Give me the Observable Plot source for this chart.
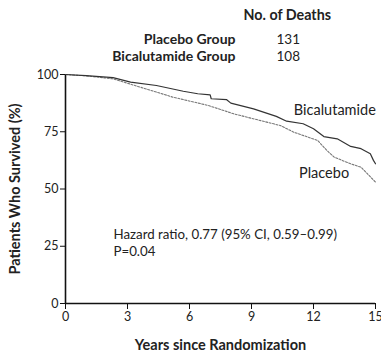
<!DOCTYPE html>
<html><head><meta charset="utf-8">
<script src="https://cdn.jsdelivr.net/npm/d3@7"></script>
<script src="https://cdn.jsdelivr.net/npm/@observablehq/plot@0.6"></script>
<style>body{margin:0;background:#fff}</style>
</head><body><div id="chart"></div>
<script>
const bicYears = [0, 1.0, 2.3, 3.15, 4.4, 5.7, 6.4, 7.0, 7.05, 7.8, 8.0, 9.1, 10.2, 10.7, 11.5, 12.0, 12.5, 13.15, 13.8, 14.3, 14.75, 14.9, 15];
const bicSurv  = [100, 99.5, 98.6, 96.7, 95.2, 92.7, 91.6, 91.1, 89.4, 89.0, 87.5, 85.0, 81.7, 79.6, 78.5, 76.3, 72.9, 71.9, 68.6, 67.6, 65.4, 62.5, 61];
const plaYears = [0, 1.0, 2.3, 3.5, 5.2, 6.9, 8.15, 9.3, 10.4, 11.05, 12.2, 12.65, 13.0, 13.8, 14.3, 15];
const plaSurv  = [100, 99.4, 98.1, 94.8, 90.1, 86.5, 82.8, 80.2, 77.7, 74.8, 71.2, 66.8, 63.9, 61.0, 59.5, 53];
const groups = ["Placebo Group", "Bicalutamide Group"];
const deaths = [131, 108];
const xTicks = [0, 3, 6, 9, 12, 15];
const yTicks = [0, 25, 50, 75, 100];
const headerTitle = "No. of Deaths";
const xLabel = "Years since Randomization";
const yLabel = "Patients Who Survived (%)";
const hazardText = "Hazard ratio, 0.77 (95% CI, 0.59–0.99)\nP=0.04";

const bic = bicYears.map((x, i) => ({x, y: bicSurv[i]}));
const pla = plaYears.map((x, i) => ({x, y: plaSurv[i]}));

const rowMarks = groups.flatMap((g, i) => [
  Plot.text([g], {frameAnchor: "top-left", dx: 170, dy: -40 + i * 17, textAnchor: "end", fontSize: 14, fontWeight: "bold", fill: "#222"}),
  Plot.text([String(deaths[i])], {frameAnchor: "top-left", dx: 211, dy: -40 + i * 17, textAnchor: "start", fontSize: 13.5, fill: "#222"})
]);

const chart = Plot.plot({
  width: 381, height: 356,
  marginLeft: 65, marginRight: 6, marginTop: 74, marginBottom: 53,
  style: {fontFamily: "Lato, sans-serif", fontSize: "12.5px", color: "#222", background: "#fff", overflow: "visible"},
  x: {domain: [0, 15]},
  y: {domain: [0, 100]},
  marks: [
    Plot.axisX({ticks: xTicks, tickSize: 6, tickPadding: 3, label: null, fontSize: 12.5, stroke: "#111"}),
    Plot.axisY({ticks: yTicks, tickSize: 5, tickPadding: 2, label: null, fontSize: 12.5, stroke: "#111"}),
    Plot.ruleX([0], {stroke: "#111", strokeWidth: 1.6}),
    Plot.ruleY([0], {stroke: "#111", strokeWidth: 1.6}),
    Plot.line(pla, {x: "x", y: "y", stroke: "#777", strokeWidth: 1.1, strokeDasharray: "2,1.5"}),
    Plot.line(bic, {x: "x", y: "y", stroke: "#333", strokeWidth: 1.2}),
    Plot.text(["Bicalutamide"], {x: 11.05, y: 84.3, textAnchor: "start", fontSize: 14.5, fill: "#222"}),
    Plot.text(["Placebo"], {x: 11.3, y: 56.8, textAnchor: "start", fontSize: 14.5, fill: "#222"}),
    Plot.text([hazardText], {x: 2.32, y: 27, textAnchor: "start", fontSize: 13.3, lineHeight: 1.3, fill: "#222"}),
    Plot.text([headerTitle], {frameAnchor: "top-left", dx: 178, dy: -65, textAnchor: "start", fontSize: 14.3, fontWeight: "bold", fill: "#222"}),
    ...rowMarks,
    Plot.text([xLabel], {frameAnchor: "bottom", dy: 46, fontSize: 14.5, fontWeight: "bold", fill: "#222"}),
    Plot.text([yLabel], {x: -2.45, y: 50, rotate: -90, fontSize: 14.5, fontWeight: "bold", fill: "#222", clip: false})
  ]
});
document.getElementById("chart").append(chart);
</script></body></html>
